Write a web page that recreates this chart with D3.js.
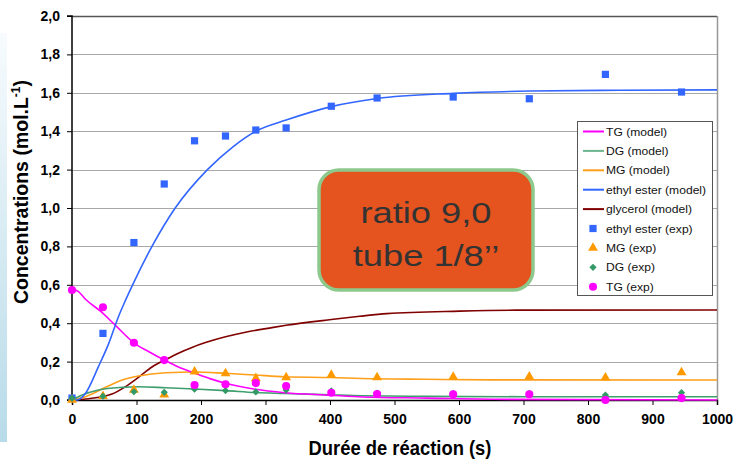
<!DOCTYPE html>
<html><head><meta charset="utf-8">
<script src="https://cdn.jsdelivr.net/npm/d3@7"></script>
<style>
body{margin:0;background:#fff;}
svg text{font-family:Arial,"Liberation Sans",sans-serif;}
</style></head>
<body><svg id="c" width="736" height="459"></svg>
<script>
// ---------- data ----------
const expTimes = [0, 48, 96, 143, 190, 238, 285, 332, 402, 473, 591, 709, 827, 945];
const eeExp = [0.01, 0.347, 0.82, 1.125, 1.35, 1.375, 1.406, 1.417, 1.53, 1.573, 1.578, 1.569, 1.696, 1.604];
const mgExp = [0.0, 0.02, 0.052, 0.028, 0.147, 0.139, 0.113, 0.118, 0.13, 0.118, 0.12, 0.121, 0.116, 0.144];
const dgExp = [0.009, 0.02, 0.043, 0.04, 0.056, 0.049, 0.042, 0.052, 0.047, 0.036, 0.035, 0.035, 0.026, 0.038];
const tgExp = [0.573, 0.483, 0.298, 0.208, 0.078, 0.082, 0.088, 0.073, 0.038, 0.031, 0.03, 0.03, 0.0, 0.01];

const tgModelT = [0, 10, 21, 45, 67, 96, 120, 143, 165, 191, 215, 238, 284, 330, 400, 450, 550, 680, 1000];
const tgModel  = [0.58, 0.565, 0.525, 0.46, 0.39, 0.298, 0.25, 0.208, 0.172, 0.139, 0.11, 0.087, 0.056, 0.038, 0.025, 0.016, 0.01, 0.003, 0.0];
const dgModelT = [0, 16, 41, 78, 103, 145, 191, 238, 284, 330, 400, 450, 550, 700, 1000];
const dgModel  = [0, 0.026, 0.052, 0.066, 0.069, 0.064, 0.057, 0.049, 0.039, 0.034, 0.027, 0.022, 0.019, 0.017, 0.017];
const mgModelT = [0, 21, 52, 78, 103, 145, 191, 238, 284, 330, 400, 450, 550, 650, 1000];
const mgModel  = [0, 0.017, 0.066, 0.104, 0.125, 0.142, 0.146, 0.139, 0.13, 0.121, 0.117, 0.112, 0.108, 0.105, 0.104];
const eeModelT = [0, 8, 21, 41, 57, 72, 83, 94, 124, 160, 210, 250, 285, 332, 402, 473, 591, 709, 850, 1000];
const eeModel  = [0, 0.0, 0.035, 0.174, 0.295, 0.434, 0.52, 0.6, 0.8, 1.0, 1.2, 1.32, 1.40, 1.458, 1.528, 1.57, 1.597, 1.609, 1.613, 1.615];
const glyModelT = [0, 31, 62, 83, 103, 124, 145, 165, 186, 207, 238, 269, 310, 332, 402, 446, 488, 601, 689, 1000];
const glyModel  = [0, 0.009, 0.031, 0.07, 0.118, 0.172, 0.21, 0.244, 0.274, 0.299, 0.329, 0.353, 0.377, 0.389, 0.419, 0.436, 0.450, 0.463, 0.468, 0.469];

const xTicks = [0, 100, 200, 300, 400, 500, 600, 700, 800, 900, 1000];
const yTicks = [0, 0.2, 0.4, 0.6, 0.8, 1.0, 1.2, 1.4, 1.6, 1.8, 2.0];
const legendLabels = ["TG (model)", "DG (model)", "MG (model)", "ethyl ester (model)", "glycerol (model)",
                      "ethyl ester (exp)", "MG (exp)", "DG (exp)", "TG (exp)"];
const xTitle = "Durée de réaction (s)";
const boxLines = ["ratio 9,0", "tube 1/8’’"];

// ---------- chart ----------
const svg = d3.select("#c");
const x = d3.scaleLinear().domain([0, 1000]).range([72, 717]);
const y = d3.scaleLinear().domain([0, 2]).range([400, 16]);

// left decorative strip
const defs = svg.append("defs");
const g = defs.append("linearGradient").attr("id","strip").attr("x1",0).attr("y1",0).attr("x2",0).attr("y2",1);
g.append("stop").attr("offset","0").attr("stop-color","#f7fbfd");
g.append("stop").attr("offset","1").attr("stop-color","#b8dbe9");
svg.append("rect").attr("x",0).attr("y",33).attr("width",7).attr("height",409).attr("fill","url(#strip)");

// grid
svg.append("g").selectAll("line").data(yTicks.slice(1)).join("line")
  .attr("x1", x(0)).attr("x2", x(1000))
  .attr("y1", d => Math.round(y(d)) + 0.5).attr("y2", d => Math.round(y(d)) + 0.5)
  .attr("stroke", d => d === 2 ? "#555" : "#a8a8a8").attr("stroke-width", d => d === 2 ? 1.5 : 1.2);
// right border
svg.append("line").attr("x1", x(1000)+0.5).attr("x2", x(1000)+0.5).attr("y1", y(2)).attr("y2", y(0))
  .attr("stroke","#999").attr("stroke-width",1.5);

const fmt = d => d3.format(".1f")(d).replace(".", ",");
const yAxis = svg.append("g").attr("transform", `translate(${x(0)},0)`)
  .call(d3.axisLeft(y).tickValues(yTicks).tickSize(5).tickPadding(7).tickFormat(fmt));
const xAxis = svg.append("g").attr("transform", `translate(0,${y(0)})`)
  .call(d3.axisBottom(x).tickValues(xTicks).tickSize(5).tickPadding(9).tickFormat(d3.format("d")));
[yAxis, xAxis].forEach(a => {
  a.select(".domain").attr("stroke", "#000").attr("stroke-width", 1.5);
  a.selectAll(".tick line").attr("stroke", "#000").attr("stroke-width", 1);
  a.selectAll("text").attr("font-size", 14).attr("font-weight", "bold").attr("fill", "#000")
    .style("font-family", "Arial, 'Liberation Sans', sans-serif");
});
yAxis.select(".domain").attr("d", `M-5,${y(2)}H0V${y(0)}H-5`);

// axis titles
svg.append("text").attr("transform", "translate(400,455) scale(0.92,1)").attr("text-anchor", "middle")
  .attr("font-size", 20).attr("font-weight", "bold").text(xTitle);
const yt = svg.append("text").attr("transform", "translate(28,192) rotate(-90)")
  .attr("text-anchor", "middle").attr("font-size", 19.5).attr("font-weight", "bold");
yt.append("tspan").text("Concentrations (mol.L");
yt.append("tspan").attr("font-size", 12).attr("dy", -8).text("-1");
yt.append("tspan").attr("dy", 8).text(")");

// text box
const bx = 319, by = 170, bw = 214, bh = 120;
svg.append("rect").attr("x", bx).attr("y", by).attr("width", bw).attr("height", bh)
  .attr("rx", 20).attr("ry", 20).attr("fill", "#E5531F").attr("stroke", "#8DC98C").attr("stroke-width", 3.5);
svg.append("text").attr("transform", `translate(${bx + bw/2},223) scale(1.25,1)`).attr("text-anchor", "middle")
  .attr("font-size", 29).attr("fill", "#333").text(boxLines[0]);
svg.append("text").attr("transform", `translate(${bx + bw/2},266) scale(1.25,1)`).attr("text-anchor", "middle")
  .attr("font-size", 29).attr("fill", "#333").text(boxLines[1]);

// model lines
const models = [
  {t: tgModelT, v: tgModel, c: "#FF00FF"},
  {t: dgModelT, v: dgModel, c: "#3E9E6E"},
  {t: mgModelT, v: mgModel, c: "#FF9F1A"},
  {t: eeModelT, v: eeModel, c: "#3366FF"},
  {t: glyModelT, v: glyModel, c: "#800000"}
];
const line = d3.line().x(d => x(d[0])).y(d => y(d[1])).curve(d3.curveMonotoneX);
const drawOrder = [4, 2, 1, 0, 3];
drawOrder.forEach(i => {
  const m = models[i];
  svg.append("path").datum(m.t.map((t, k) => [t, m.v[k]]))
    .attr("d", line).attr("fill", "none").attr("stroke", m.c).attr("stroke-width", 1.6);
});

// markers
const sym = {
  square: {p: d3.symbol().type(d3.symbolSquare).size(52)(), r: 0},
  triangle: {p: d3.symbol().type(d3.symbolTriangle).size(42)(), r: 0},
  diamond: {p: d3.symbol().type(d3.symbolSquare).size(26)(), r: 45},
  circle: {p: d3.symbol().type(d3.symbolCircle).size(52)(), r: 0}
};
const exps = [
  {v: eeExp, s: "square", c: "#3366FF"},
  {v: mgExp, s: "triangle", c: "#FF9900"},
  {v: dgExp, s: "diamond", c: "#339966"},
  {v: tgExp, s: "circle", c: "#FF00FF"}
];
exps.forEach(e => {
  svg.append("g").selectAll("path").data(expTimes.map((t, k) => [t, e.v[k]])).join("path")
    .attr("transform", d => `translate(${x(d[0])},${y(d[1])}) rotate(${sym[e.s].r})`)
    .attr("d", sym[e.s].p).attr("fill", e.c);
});

// legend
const lg = svg.append("g");
lg.append("rect").attr("x", 577.5).attr("y", 121.5).attr("width", 135).attr("height", 174)
  .attr("fill", "#fff").attr("stroke", "#555").attr("stroke-width", 1);
const legendStyles = [
  {c: "#FF00FF", k: "line"}, {c: "#6DB58F", k: "line"}, {c: "#FF9F1A", k: "line"},
  {c: "#3366FF", k: "line"}, {c: "#800000", k: "line"},
  {c: "#3366FF", k: "square"}, {c: "#FF9900", k: "triangle"}, {c: "#339966", k: "diamond"}, {c: "#FF00FF", k: "circle"}
];
legendLabels.forEach((lab, i) => {
  const yy = 131.5 + i * 19.4;
  const st = legendStyles[i];
  if (st.k === "line") {
    lg.append("line").attr("x1", 583).attr("x2", 604).attr("y1", yy).attr("y2", yy)
      .attr("stroke", st.c).attr("stroke-width", 2);
  } else {
    lg.append("path").attr("transform", `translate(593,${yy}) rotate(${sym[st.k].r})`)
      .attr("d", sym[st.k].p).attr("fill", st.c);
  }
  lg.append("text").attr("transform", `translate(606,${yy + 4}) scale(1.1,1)`)
    .attr("font-size", 11).attr("fill", "#111").text(lab);
});
</script></body></html>
